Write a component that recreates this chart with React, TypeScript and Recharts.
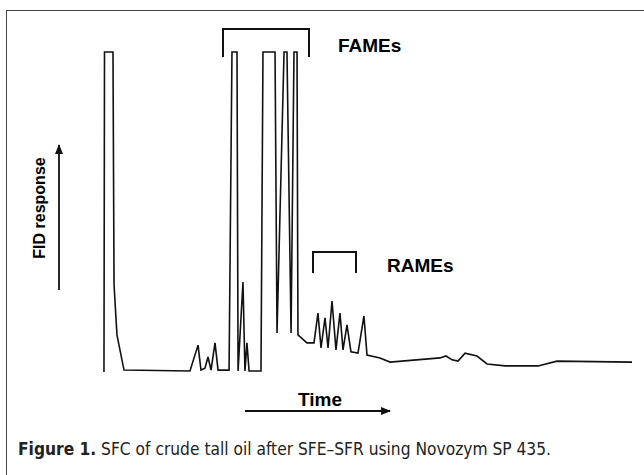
import { LineChart, Line, XAxis, YAxis } from "recharts";

// retention time (min) and FID response (% of full scale)
const time = [
  0.3, 0.34, 0.98, 1.06, 1.28, 1.81, 6.79,
  7.4, 7.62, 7.92, 8.15, 8.38, 8.68, 8.91, 9.74,
  9.96, 10.34, 10.42, 10.79, 10.94, 11.09, 11.25, 12.15,
  12.3, 13.21, 13.36, 13.89, 14.11, 14.42, 14.64, 14.87, 14.94, 15.62, 16.15,
  16.45, 16.68, 16.98, 17.21, 17.51, 17.81, 18.11, 18.34, 18.64, 18.94, 19.47, 19.92, 20.15, 21.13, 21.89,
  25.66, 26.11, 26.57, 27.02, 27.55, 28.45, 29.21, 30.57, 33.06, 34.49, 40.15,
];
const response = [
  0, 100, 100, 27.2, 11.6, 0.6, 0.3,
  8.4, 0.6, 1.2, 4.7, 0.6, 9.1, 0.6, 0.6,
  100, 100, 0.3, 28.1, 0.3, 9.1, 0.3, 0.3,
  100, 100, 12.2, 100, 100, 12.2, 100, 100, 11.6, 9.1, 9.1,
  18.4, 7.5, 16.9, 7.5, 22.2, 6.9, 18.4, 6.9, 14.7, 6.3, 5.9, 17.5, 5.3, 4.4, 3.1,
  4.4, 5.0, 3.8, 3.4, 5.9, 5.0, 2.5, 1.9, 1.9, 3.4, 3.1,
];

const data = time.map((t, i) => ({ t, r: response[i] }));

const bold = "'Liberation Sans', Arial, sans-serif";
const narrow = "'Liberation Sans Narrow', 'DejaVu Sans Condensed', sans-serif";

export default function App() {
  return (
    <div style={{ position: "absolute", left: 0, top: 0, width: 644, height: 475, overflow: "hidden", background: "#fff" }}>
      <div style={{ position: "absolute", left: 6, top: 10, width: 700, height: 500, borderLeft: "1.5px solid #444", borderTop: "1.5px solid #444" }} />
      <div style={{ position: "absolute", left: 0, top: 0 }}>
        <LineChart width={644} height={475} data={data} margin={{ top: 52, right: 12, bottom: 103, left: 100 }}>
          <XAxis dataKey="t" type="number" domain={[0, 40.15]} hide />
          <YAxis type="number" domain={[0, 100]} hide />
          <Line
            type="linear"
            dataKey="r"
            stroke="#111"
            strokeWidth={1.6}
            dot={false}
            isAnimationActive={false}
          />
        </LineChart>
      </div>
      <svg width={644} height={475} style={{ position: "absolute", left: 0, top: 0 }}>
        <defs>
          <marker id="head" markerWidth="10" markerHeight="8" refX="9" refY="4" orient="auto" markerUnits="userSpaceOnUse">
            <path d="M0,0 L10,4 L0,8 Z" fill="#111" />
          </marker>
        </defs>
        {/* FAMEs bracket */}
        <path d="M223,57 V29 H309 V57" fill="none" stroke="#111" strokeWidth={2} />
        <text x={338} y={52} fontFamily={bold} fontWeight="bold" fontSize={19}>FAMEs</text>
        {/* RAMEs bracket */}
        <path d="M313,273 V252 H356 V273" fill="none" stroke="#111" strokeWidth={2} />
        <text x={387} y={272} fontFamily={bold} fontWeight="bold" fontSize={19}>RAMEs</text>
        {/* y label */}
        <line x1={59} y1={290} x2={59} y2={145} stroke="#111" strokeWidth={1.8} markerEnd="url(#head)" />
        <text
          x={0}
          y={0}
          transform="translate(44.5,208) rotate(-90)"
          textAnchor="middle"
          fontFamily={bold}
          fontWeight="bold"
          fontSize={16}
        >
          FID response
        </text>
        {/* x label */}
        <text x={320} y={406} textAnchor="middle" fontFamily={bold} fontWeight="bold" fontSize={19}>Time</text>
        <line x1={245} y1={411} x2={390} y2={411} stroke="#111" strokeWidth={1.8} markerEnd="url(#head)" />
        {/* caption */}
        <text x={18} y={455} fontFamily={narrow} fontSize={18} fill="#222" textLength={533} lengthAdjust="spacingAndGlyphs">
          <tspan fontWeight="bold">Figure 1.</tspan>
          <tspan> SFC of crude tall oil after SFE–SFR using Novozym SP 435.</tspan>
        </text>
      </svg>
    </div>
  );
}
